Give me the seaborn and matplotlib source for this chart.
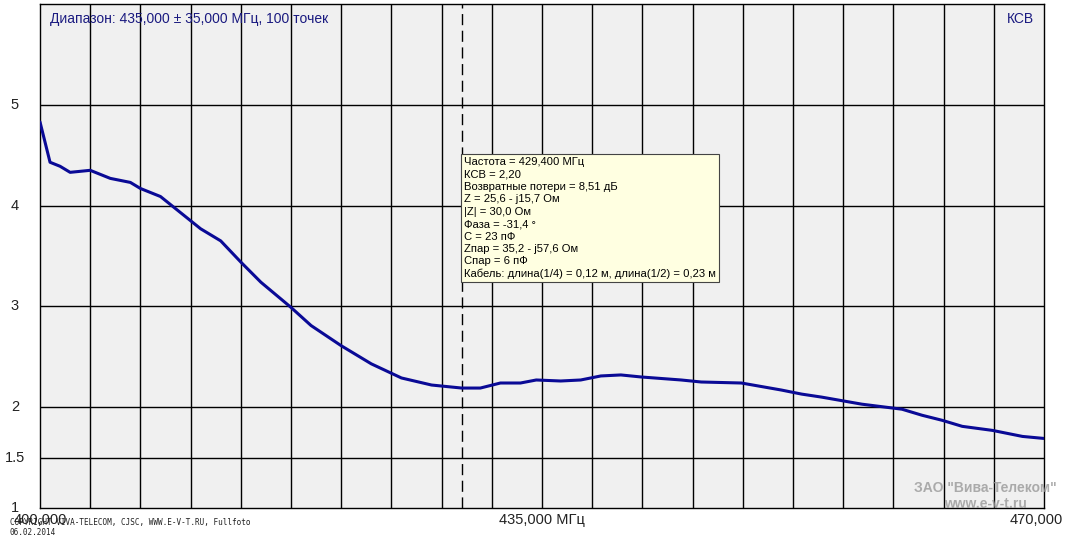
import matplotlib
matplotlib.use("Agg")
import matplotlib.pyplot as plt
import seaborn as sns
import pandas as pd

freq_mhz = [400.0, 400.7, 401.4, 402.1, 403.5, 404.9, 406.3, 407.0, 408.4, 409.8, 411.2, 412.6,
            414.0, 415.4, 417.5, 418.9, 421.0, 423.1, 425.2, 427.3, 429.4, 430.7, 432.1, 433.5,
            434.6, 436.3, 437.7, 439.1, 440.5, 441.9, 444.7, 446.1, 448.9, 451.7, 453.1, 454.5,
            457.3, 460.1, 461.5, 462.9, 464.3, 466.4, 468.5, 470.0]
vswr = [4.83, 4.43, 4.39, 4.33, 4.35, 4.27, 4.23, 4.17, 4.09, 3.93, 3.77, 3.65,
        3.44, 3.24, 2.99, 2.81, 2.61, 2.43, 2.29, 2.22, 2.19, 2.19, 2.24, 2.24,
        2.27, 2.26, 2.27, 2.31, 2.32, 2.30, 2.27, 2.25, 2.24, 2.17, 2.13, 2.10,
        2.03, 1.98, 1.92, 1.87, 1.81, 1.77, 1.71, 1.69]
y_ticks = [1, 1.5, 2, 3, 4, 5]
marker_freq = 429.4
info_lines = ["Частота = 429,400 МГц", "КСВ = 2,20", "Возвратные потери = 8,51 дБ",
              "Z = 25,6 - j15,7 Ом", "|Z| = 30,0 Ом", "Фаза = -31,4 °", "C = 23 пФ",
              "Zпар = 35,2 - j57,6 Ом", "Cпар = 6 пФ",
              "Кабель: длина(1/4) = 0,12 м, длина(1/2) = 0,23 м"]

sns.set_theme(style="white")
plt.rcParams['font.family'] = ['Liberation Sans', 'DejaVu Sans']

fig = plt.figure(figsize=(10.67, 5.46), dpi=100)
fig.patch.set_facecolor("white")
ax = fig.add_axes([40/1067, 38/546, 1004/1067, 504/546])
ax.set_facecolor("#f0f0f0")
df = pd.DataFrame({"f": freq_mhz, "v": vswr})
sns.lineplot(data=df, x="f", y="v", ax=ax, color="#0a0a96", linewidth=2.2, zorder=3)
ax.set_xlim(400, 470)
ax.set_ylim(1, 6)
for i in range(1, 20):
    ax.axvline(400 + i * 3.5, color="black", lw=1, zorder=1)
for t in [1.5, 2, 3, 4, 5]:
    ax.axhline(t, color="black", lw=1, zorder=1)
ax.axvline(marker_freq, color="black", lw=1, ls=(0, (8, 4)), zorder=2)
for s in ax.spines.values():
    s.set_color("black"); s.set_linewidth(1)
ax.set_xticks([]); ax.set_yticks([])
ax.set_xlabel(""); ax.set_ylabel("")

for t in y_ticks:
    ax.text(-0.025, t, f"{t:g}", transform=ax.get_yaxis_transform(), ha="center", va="center", fontsize=10.5, color="#222")
ax.text(0.01, 0.985, "Диапазон: 435,000 ± 35,000 МГц, 100 точек", transform=ax.transAxes,
        ha="left", va="top", fontsize=10, color="#1a1a80")
ax.text(0.99, 0.985, "КСВ", transform=ax.transAxes, ha="right", va="top", fontsize=10, color="#1a1a80")
fig.text(40/1067, 26/546, "400,000", ha="center", va="center", fontsize=10.5, color="#222")
fig.text(542/1067, 26/546, "435,000 МГц", ha="center", va="center", fontsize=10.5, color="#222")
fig.text(1036/1067, 26/546, "470,000", ha="center", va="center", fontsize=10.5, color="#222")
fig.text(10/1067, 28/546, "COPYRIGHT VIVA-TELECOM, CJSC, WWW.E-V-T.RU, Fullfoto\n06.02.2014",
         ha="left", va="top", fontsize=5.5, family="DejaVu Sans Mono", color="#222")
fig.text(985/1067, 50/546, "ЗАО \"Вива-Телеком\"\nwww.e-v-t.ru", ha="center", va="center",
         fontsize=10, color="#999999", alpha=0.8, fontweight="bold")

ax.text(marker_freq + 0.15, 4.48, "\n".join(info_lines), ha="left", va="top", fontsize=8.1,
        color="black", linespacing=1.3, zorder=5,
        bbox=dict(boxstyle="square,pad=0.25", facecolor="#ffffe1", edgecolor="#444", lw=0.8))

fig.savefig("out.png", dpi=100)
